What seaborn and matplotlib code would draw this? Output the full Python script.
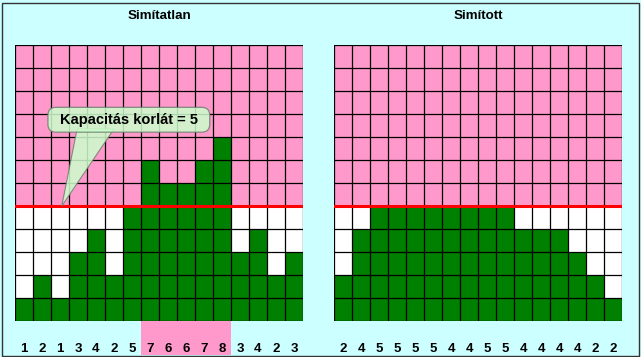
import matplotlib
matplotlib.use("Agg")
import matplotlib.pyplot as plt
import matplotlib.transforms as mtransforms
from matplotlib.patches import Rectangle, Polygon, FancyBboxPatch
import seaborn as sns
import pandas as pd

# ---- data ----
columns = list(range(1, 17))
unsmoothed_heights = [1, 2, 1, 3, 4, 2, 5, 7, 6, 6, 7, 8, 3, 4, 2, 3]
unsmoothed_labels = ["1", "2", "1", "3", "4", "2", "5", "7", "6", "6", "7", "8", "3", "4", "2", "3"]
smoothed_heights = [2, 4, 5, 5, 5, 5, 5, 5, 5, 5, 4, 4, 4, 3, 2, 1]
smoothed_labels = ["2", "4", "5", "5", "5", "5", "4", "4", "5", "5", "4", "4", "4", "4", "2", "2"]
capacity = 5
max_rows = 12
highlight_cols = [8, 12]          # columns highlighted under the left chart
titles = ["Simítatlan", "Simított"]
callout_text = "Kapacitás korlát = 5"

PINK = "#FF99CC"
GREEN = "#008000"
BG = "#CCFFFF"
RED = "#FF0000"

sns.set_theme(style="white")
plt.rcParams["font.family"] = ["Liberation Sans", "DejaVu Sans"]

W, H = 641, 357
fig = plt.figure(figsize=(W / 100, H / 100), dpi=100, facecolor=BG)

def px_rect(x0, y0, x1, y1):
    return [x0 / W, 1 - y1 / H, (x1 - x0) / W, (y1 - y0) / H]

ax_left = fig.add_axes(px_rect(15, 45, 303, 321))
ax_right = fig.add_axes(px_rect(334, 45, 622, 321))

def draw_panel(ax, heights, labels, title):
    n = len(heights)
    ax.set_facecolor(BG)
    ax.axhspan(capacity, max_rows, color=PINK, zorder=0, lw=0)
    ax.axhspan(0, capacity, color="white", zorder=0, lw=0)
    df = pd.DataFrame({"col": [str(c) for c in columns], "h": heights})
    sns.barplot(data=df, x="col", y="h", ax=ax, color=GREEN, saturation=1,
                width=1.0, linewidth=0, edgecolor="none", zorder=1)
    ax.set_xlim(-0.5, n - 0.5)
    ax.set_ylim(0, max_rows)
    for i in range(n + 1):
        ax.axvline(i - 0.5, color="black", lw=0.9, zorder=3)
    for j in range(max_rows + 1):
        ax.axhline(j, color="black", lw=0.9, zorder=3)
    ax.axhline(capacity, color=RED, lw=2.2, zorder=4)
    ax.set_xticks([])
    ax.set_yticks([])
    ax.set_xlabel("")
    ax.set_ylabel("")
    for s in ax.spines.values():
        s.set_visible(False)
    trans = mtransforms.blended_transform_factory(ax.transData, fig.transFigure)
    for i, lab in enumerate(labels):
        ax.text(i, (H - 351.5) / H, lab, transform=trans, ha="center", va="baseline",
                fontsize=9.5, fontweight="bold", color="black", clip_on=False)
    bbox = ax.get_position()
    fig.text(bbox.x0 + bbox.width / 2, 1 - 16 / H, title, ha="center", va="center",
             fontsize=9.6, fontweight="bold", color="black")

draw_panel(ax_left, unsmoothed_heights, unsmoothed_labels, titles[0])
draw_panel(ax_right, smoothed_heights, smoothed_labels, titles[1])

# pink highlight under peak columns (left chart), from grid bottom to border
trans = mtransforms.blended_transform_factory(ax_left.transData, fig.transFigure)
hl = Rectangle((highlight_cols[0] - 1.5, 2.5 / H), highlight_cols[1] - highlight_cols[0] + 1,
               (H - 321 - 2.5) / H,
               transform=trans, facecolor=PINK, lw=0, zorder=-1, clip_on=False)
fig.patches.append(hl)
hl.set_figure(fig)

# callout on the left chart
ax = ax_left
box_x0, box_x1, box_y0, box_y1 = 1.45, 10.2, 8.3, 9.2
cfill = "#CCFFCC"
cedge = "#6F7F6F"
pointer = Polygon([(2.95, box_y0 + 0.05), (5.0, box_y0 + 0.05), (2.1, capacity)],
                  closed=True, facecolor=cfill, edgecolor=cedge, lw=0.8, alpha=0.85, zorder=5)
ax.add_patch(pointer)
box = FancyBboxPatch((box_x0, box_y0), box_x1 - box_x0, box_y1 - box_y0,
                     boxstyle="round,pad=0.12,rounding_size=0.45", mutation_aspect=0.75,
                     facecolor=cfill, edgecolor=cedge, lw=0.9, alpha=0.85, zorder=6)
ax.add_patch(box)
ax.text((box_x0 + box_x1) / 2, (box_y0 + box_y1) / 2, callout_text, ha="center", va="center",
        fontsize=10.5, fontweight="bold", color="black", zorder=7)

# outer border
fig.patches.append(Rectangle((1.5 / W, 1.5 / H), (W - 3.5) / W, (H - 4) / H,
                             transform=fig.transFigure, fill=False, edgecolor="#333333",
                             lw=1, zorder=10))

fig.savefig("out.png", dpi=100, facecolor=BG)
